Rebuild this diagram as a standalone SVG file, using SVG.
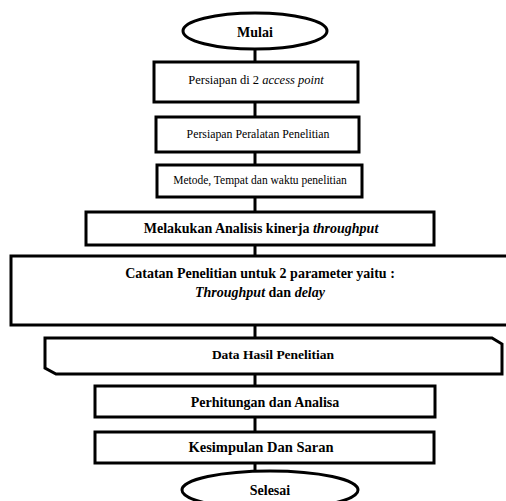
<svg xmlns="http://www.w3.org/2000/svg" width="506" height="501" viewBox="0 0 506 501">
<style>
.s{fill:#fff;stroke:#000;stroke-width:3}
.c{stroke:#000;stroke-width:3;fill:none}
text{font-family:"Liberation Serif","Times New Roman",serif;fill:#000;text-anchor:middle}
.b{font-weight:bold}
.i{font-style:italic}
</style>
<rect width="506" height="501" fill="#fff"/>
<g id="connectors">
<line class="c" x1="255" y1="48" x2="255" y2="62"/>
<line class="c" x1="255" y1="102" x2="255" y2="117"/>
<line class="c" x1="255" y1="152" x2="255" y2="165"/>
<line class="c" x1="255" y1="197" x2="255" y2="212"/>
<line class="c" x1="255" y1="245" x2="255" y2="256"/>
<line class="c" x1="255" y1="325" x2="255" y2="338"/>
<line class="c" x1="255" y1="374" x2="255" y2="386"/>
<line class="c" x1="255" y1="417" x2="255" y2="432"/>
<line class="c" x1="255" y1="463" x2="255" y2="471"/>
</g>
<g id="mulai">
<ellipse class="s" cx="255" cy="31" rx="72" ry="18"/>
<text x="255" y="37" font-size="14" class="b">Mulai</text>
</g>
<g id="persiapan-ap">
<rect class="s" x="154" y="62" width="204" height="40"/>
<text x="256" y="84" font-size="12.5">Persiapan  di 2 <tspan class="i">access point</tspan></text>
</g>
<g id="persiapan-alat">
<rect class="s" x="156" y="117" width="203" height="35"/>
<text x="258" y="138" font-size="11.8">Persiapan Peralatan Penelitian</text>
</g>
<g id="metode">
<rect class="s" x="157" y="165" width="205" height="32"/>
<text x="260" y="184" font-size="11.5">Metode, Tempat dan waktu penelitian</text>
</g>
<g id="analisis">
<rect class="s" x="86" y="212" width="348" height="33"/>
<text x="261" y="233" font-size="14" class="b">Melakukan Analisis kinerja <tspan class="i">throughput</tspan></text>
</g>
<g id="catatan">
<rect class="s" x="11" y="256" width="510" height="69"/>
<text x="260" y="278" font-size="14" class="b">Catatan Penelitian untuk 2 parameter yaitu :</text>
<text x="260" y="297" font-size="14" class="b"><tspan class="i">Throughput</tspan> dan <tspan class="i">delay</tspan></text>
</g>
<g id="data">
<path class="s" d="M45,338 L492,338 L502,344 L502,374 L56,374 L45,368 Z"/>
<text x="273" y="359" font-size="13.5" class="b">Data Hasil Penelitian</text>
</g>
<g id="perhitungan">
<rect class="s" x="95" y="386" width="340" height="31"/>
<text x="265" y="407" font-size="14" class="b">Perhitungan dan Analisa</text>
</g>
<g id="kesimpulan">
<rect class="s" x="95" y="432" width="339" height="31"/>
<text x="261" y="452" font-size="14.5" class="b">Kesimpulan Dan Saran</text>
</g>
<g id="selesai">
<ellipse class="s" cx="270" cy="490" rx="88" ry="19"/>
<text x="270" y="495" font-size="14" class="b">Selesai</text>
</g>
</svg>
